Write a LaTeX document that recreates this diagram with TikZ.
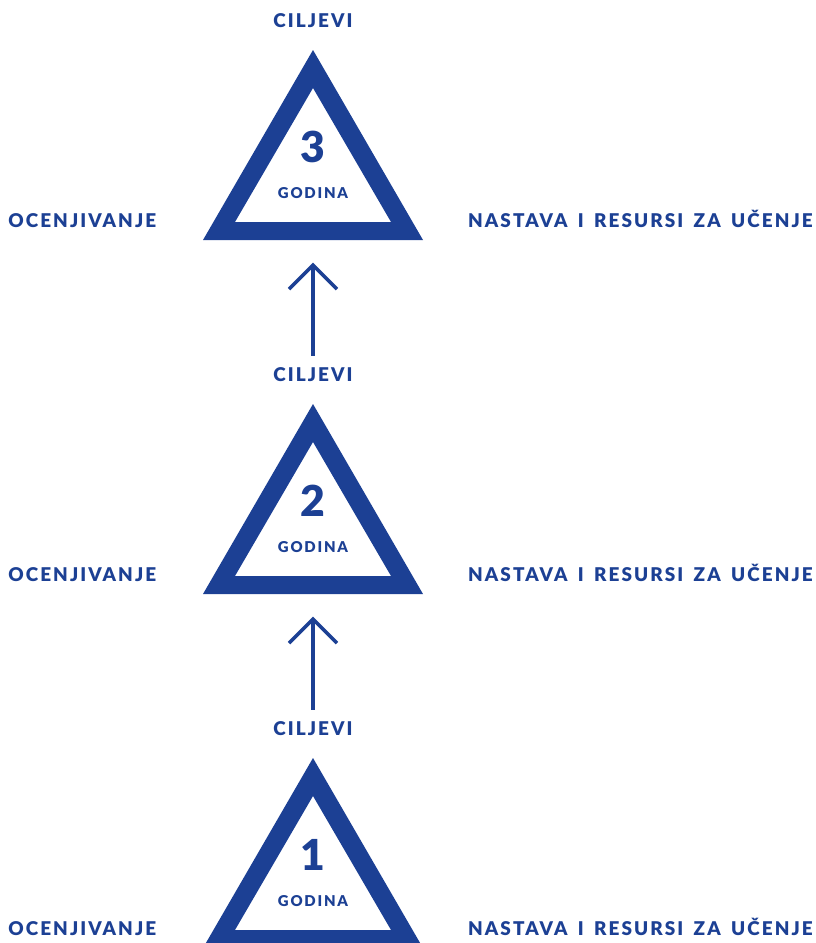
\documentclass[tikz,border=0pt]{standalone}
\usepackage{fontspec}
\usepackage{tikz}
\usepackage{xcolor}
\usetikzlibrary{positioning, arrows.meta}

\newfontfamily\labelfont{Lato Black}[LetterSpace=11, WordSpace=1.6]
\newfontfamily\yearfont{Lato Black}[LetterSpace=12]
\definecolor{godblue}{RGB}{28,64,148}

\tikzset{
	labeltext/.style={font=\labelfont\fontsize{14.2}{16}\selectfont,
		text=godblue, inner sep=0pt},
	yeartext/.style={font=\yearfont\fontsize{11.2}{13}\selectfont,
		text=godblue, inner sep=0pt},
	numtext/.style={font=\labelfont\fontsize{32}{34}\selectfont,
		text=godblue, inner sep=0pt},
	tri/.style={fill=godblue, even odd rule},
	uparrow/.style={draw=godblue, line width=2.6pt, ->}
}

\begin{document}
\begin{tikzpicture}[x=0.75pt, y=-0.75pt,
		>={Straight Barb[length=18pt, width=36pt]}]
		\def\S{354}
		\def\X{313}

		\useasboundingbox (0,0) rectangle (816,943);

		\foreach \n in {1,2,3} {
			\pgfmathtruncatemacro{\dy}{(3-\n)*\S}

			\coordinate (top\n) at (\X,{50+\dy});
			\coordinate (base\n) at (\X,{240+\dy});

			% triangle with a thick border
			\fill[tri] (top\n) -- ++(110,190) -- ++(-220,0) -- cycle
				(top\n) ++(0,38) -- ++(78,134) -- ++(-156,0) -- cycle;

			\node[labeltext] (cilj\n) at (\X,{21+\dy}) {CILJEVI};
			\node[numtext] (num\n) at (\X,{147+\dy}) {\n};
			\node[yeartext] (god\n) at (\X,{193+\dy}) {GODINA};
			\node[labeltext, anchor=west] (ocj\n) at (8,{221+\dy}) {OCENJIVANJE};
			\node[labeltext, anchor=east] (nast\n)
				at (813,{219+\dy}) {NASTAVA I RESURSI ZA UČENJE};
		}

		\draw[uparrow] ([yshift=9pt]cilj1.north) -- ([yshift=-17pt]base2);
		\draw[uparrow] ([yshift=9pt]cilj2.north) -- ([yshift=-17pt]base3);
	\end{tikzpicture}
\end{document}
